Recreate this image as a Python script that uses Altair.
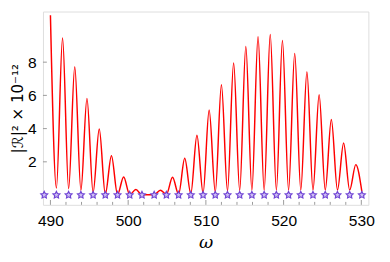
import altair as alt
import pandas as pd

# red curve: alternating peaks / minima
omega = [490.00, 490.77, 491.56, 492.34, 493.13, 493.92, 494.70, 495.49, 496.28, 497.06,
         497.85, 498.63, 499.42, 500.20, 500.99, 501.78, 502.56, 503.35, 504.14, 504.92,
         505.71, 506.49, 507.28, 508.06, 508.85, 509.64, 510.42, 511.21, 512.00, 512.78,
         513.57, 514.35, 515.14, 515.92, 516.71, 517.50, 518.28, 519.07, 519.85, 520.64,
         521.43, 522.21, 523.00, 523.78, 524.57, 525.36, 526.14, 526.93, 527.72, 528.50,
         529.29, 530.07]
R2 = [10.82, 0.42, 9.45, 0.38, 7.72, 0.28, 5.82, 0.15, 3.97, 0.05,
      2.37, 0.03, 1.09, 0.02, 0.33, 0.01, 0.02, 0.01, 0.29, 0.03,
      1.07, 0.05, 2.21, 0.08, 3.60, 0.12, 5.12, 0.18, 6.64, 0.25,
      7.95, 0.28, 8.94, 0.30, 9.53, 0.30, 9.66, 0.30, 9.31, 0.30,
      8.53, 0.30, 7.42, 0.30, 6.04, 0.30, 4.55, 0.30, 3.13, 0.30,
      1.83, 0.20]

# purple markers along the axis
marker_omega = [489.20, 490.77, 492.34, 493.92, 495.49, 497.06, 498.63, 500.20, 501.78,
                503.35, 504.92, 506.49, 508.06, 509.64, 511.21, 512.78, 514.35, 515.92,
                517.50, 519.07, 520.64, 522.21, 523.78, 525.36, 526.93, 528.50, 530.07]
marker_value = [0.0] * len(marker_omega)

x_major = [490, 500, 510, 520, 530]
x_minor = [492, 494, 496, 498, 502, 504, 506, 508, 512, 514, 516, 518,
           522, 524, 526, 528]
y_major = [2, 4, 6, 8]

W, H = 335, 199
XD = [489.04, 530.91]
YD = [-0.59, 11.05]

curve = pd.DataFrame({"omega": omega, "R2": R2})
marks = pd.DataFrame({"omega": marker_omega, "R2": marker_value})
xmaj = pd.DataFrame({"t": x_major})
xmin = pd.DataFrame({"t": x_minor})
ymaj = pd.DataFrame({"t": y_major})

xscale = alt.Scale(domain=XD, nice=False, zero=False)
yscale = alt.Scale(domain=YD, nice=False, zero=False)

xaxis = alt.Axis(values=x_major, grid=False, ticks=False, domain=False,
                 labelFontSize=16, labelFont="Liberation Sans", labelColor="#000",
                 labelPadding=8, title="ω", titleFontSize=18, titleFont="DejaVu Serif",
                 titleFontStyle="italic", titleFontWeight="normal", titlePadding=6,
                 titleColor="#000")
yaxis = alt.Axis(values=y_major, grid=False, ticks=False, domain=False,
                 labelFontSize=16, labelFont="Liberation Sans", labelColor="#000",
                 labelPadding=7, title="|ℛ|² × 10⁻¹²", titleFontSize=15.5,
                 titleFont="DejaVu Sans", titleFontWeight="normal", titlePadding=2,
                 titleColor="#000")

line = alt.Chart(curve).mark_line(color="#ff0000", strokeWidth=1.5,
                                  interpolate="monotone", clip=True).encode(
    x=alt.X("omega:Q", scale=xscale, axis=xaxis),
    y=alt.Y("R2:Q", scale=yscale, axis=yaxis),
)

star = ("M0,-1 L0.29,-0.4 L0.95,-0.31 L0.48,0.15 L0.59,0.81 L0,0.5 "
        "L-0.59,0.81 L-0.48,0.15 L-0.95,-0.31 L-0.29,-0.4 Z")
pts = alt.Chart(marks).mark_point(shape=star, filled=True, fill="#cdbdf4",
                                  stroke="#6f44d4", strokeWidth=1.2, size=55,
                                  opacity=1).encode(
    x=alt.X("omega:Q", scale=xscale),
    y=alt.Y("R2:Q", scale=yscale),
)

tick_col = "#999999"
xt_maj = alt.Chart(xmaj).mark_rule(color=tick_col, strokeWidth=1).encode(
    x=alt.X("t:Q", scale=xscale), y=alt.value(H), y2=alt.value(H - 5))
xt_min = alt.Chart(xmin).mark_rule(color=tick_col, strokeWidth=1).encode(
    x=alt.X("t:Q", scale=xscale), y=alt.value(H), y2=alt.value(H - 3))
yt_maj = alt.Chart(ymaj).mark_rule(color=tick_col, strokeWidth=1).encode(
    y=alt.Y("t:Q", scale=yscale), x=alt.value(0), x2=alt.value(4))

chart = alt.layer(xt_min, xt_maj, yt_maj, line, pts).properties(
    width=W, height=H,
    autosize=alt.AutoSizeParams(type="none"),
    padding={"left": 36, "top": 0, "right": 14, "bottom": 47},
).configure_view(stroke="#999999", strokeWidth=1).configure(background="white")

chart.save("out.html", embed_options={"renderer": "svg", "actions": False})
